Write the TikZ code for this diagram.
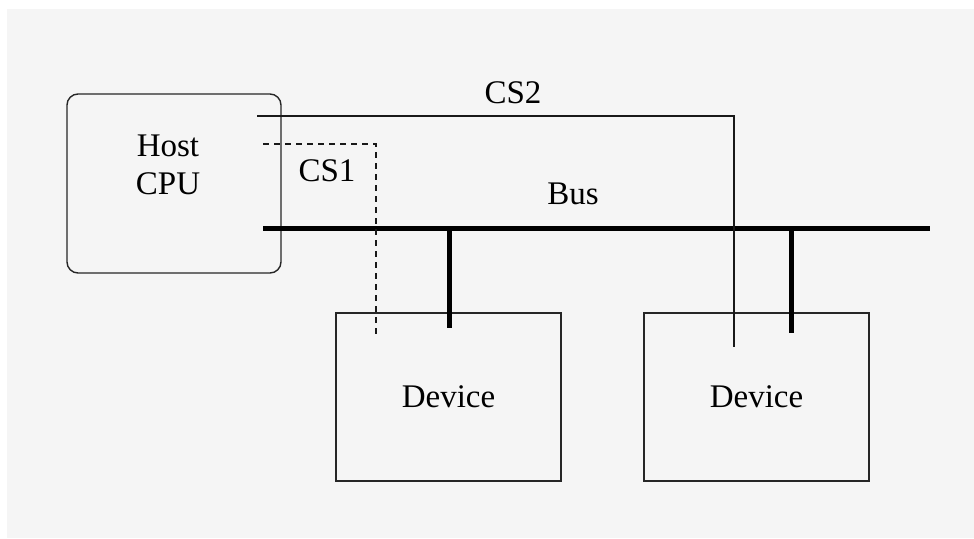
\documentclass[tikz,border=0pt]{standalone}
\usepackage{fontspec}
\setmainfont{Liberation Serif}
\begin{document}
\begin{tikzpicture}[x=1pt,y=-1pt,
  every node/.style={font=\fontsize{33}{38}\selectfont, inner sep=0pt},
  box/.style={draw=black!85, line width=1.4pt, minimum width=225pt, minimum height=168pt},
  hostbox/.style={draw=black!85, line width=1.4pt, rounded corners=11pt, minimum width=214pt, minimum height=179pt},
  sigline/.style={draw=black!90, line width=1.3pt},
  csdash/.style={sigline, dashed, dash pattern=on 6pt off 5pt},
  busline/.style={draw=black, line width=5pt}]
  % canvas
  \fill[white] (0,0) rectangle (974,538);
  \fill[black!4] (7,9) rectangle (974,538);
  \useasboundingbox (0,0) rectangle (974,538);

  % host processor
  \node[hostbox] (host) at (174,183.5) {};
  \node[align=center] (hosttxt) at (168,165) {Host\\CPU};

  % peripheral devices
  \node[box] (dev1) at (448.5,397) {Device};
  \node[box] (dev2) at (756.5,397) {Device};

  % shared bus
  \coordinate (busL) at (263,228);
  \coordinate (busR) at (930,228);
  \draw[busline] (busL) -- (busR);
  \coordinate (tap1) at (449,228);
  \coordinate (tap2) at (791,228);
  \coordinate (end1) at (449,328);
  \coordinate (end2) at (791,333);
  \draw[busline] (tap1) -- (end1);
  \draw[busline] (tap2) -- (end2);
  \node (bustxt) at (573,194) {Bus};

  % chip selects
  \coordinate (cs2a) at (257,116);
  \coordinate (cs2b) at (734,347);
  \draw[sigline] (cs2a) -| (cs2b);
  \node (cs2txt) at (513,93) {CS2};

  \coordinate (cs1a) at (263,144);
  \coordinate (cs1b) at (376,337);
  \draw[csdash] (cs1a) -| (cs1b);
  \node (cs1txt) at (327,171) {CS1};
\end{tikzpicture}
\end{document}
